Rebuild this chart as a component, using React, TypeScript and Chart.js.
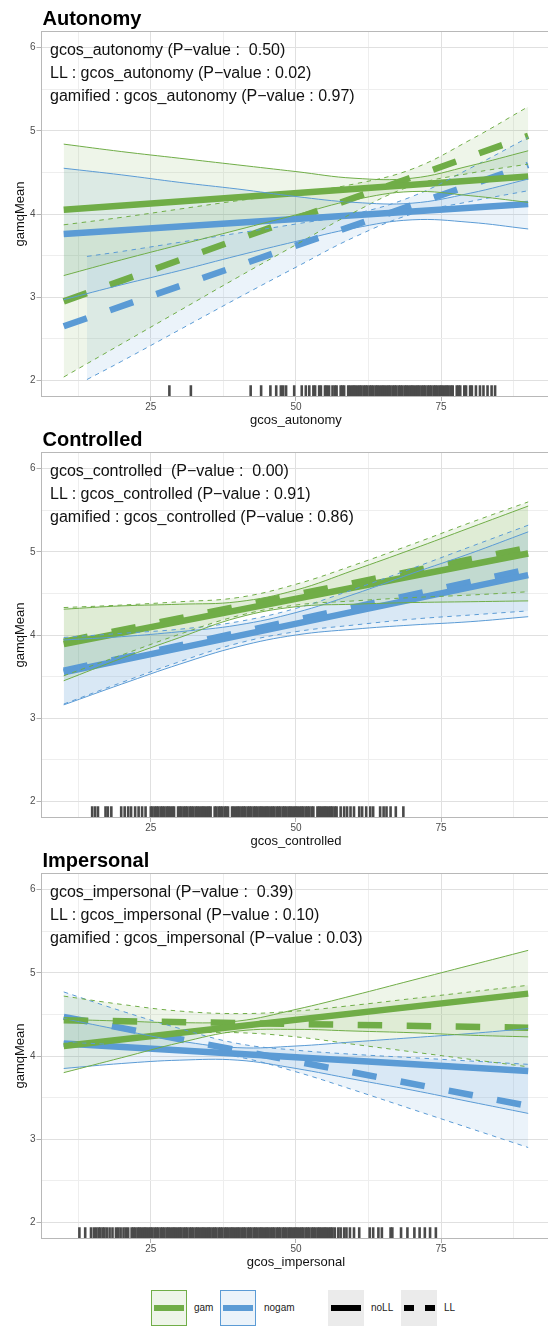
import React, { useEffect, useRef } from "react";
import { Chart, registerables } from "chart.js";

Chart.register(...registerables);

const FONT = "'Liberation Sans', Arial, Helvetica, sans-serif";
Chart.defaults.font.family = FONT;

const GREEN = "#70AD47";
const BLUE = "#5B9BD5";
const GREEN_FILL = "rgba(112,173,71,0.12)";
const BLUE_FILL = "rgba(91,155,213,0.12)";

// axis ticks
const X_MAJOR = [25, 50, 75];
const X_MINOR = [12.5, 37.5, 62.5, 87.5];
const Y_MAJOR = [2, 3, 4, 5, 6];
const Y_MINOR = [2.5, 3.5, 4.5, 5.5];

// x positions of the fitted lines and of the confidence bands
const fitX = [10, 90];
const bandX = [10, 20, 30, 40, 50, 60, 70, 80, 90];

// ---------- Autonomy ----------
const autGamFit = [4.05, 4.45];
const autNogamFit = [3.76, 4.12];
const autGamLLFit = [2.95, 4.94];
const autNogamLLFit = [2.65, 4.59];
const autGamLo = [3.26, 3.45, 3.63, 3.81, 3.99, 4.17, 4.27, 4.22, 4.14];
const autGamHi = [4.84, 4.75, 4.67, 4.59, 4.51, 4.43, 4.43, 4.58, 4.76];
const autNogamLo = [2.97, 3.15, 3.32, 3.5, 3.67, 3.83, 3.93, 3.9, 3.82];
const autNogamHi = [4.55, 4.47, 4.38, 4.3, 4.21, 4.14, 4.13, 4.25, 4.42];
const autGamLLLo = [2.04, 2.44, 2.84, 3.24, 3.63, 4.02, 4.34, 4.49, 4.6];
const autGamLLHi = [3.87, 3.96, 4.06, 4.16, 4.25, 4.36, 4.54, 4.89, 5.29];
const autNogamLLX = [14, 20, 30, 40, 50, 60, 70, 80, 90];
const autNogamLLLo = [2.01, 2.23, 2.61, 2.99, 3.36, 3.72, 4.0, 4.15, 4.28];
const autNogamLLHi = [3.49, 3.55, 3.66, 3.77, 3.88, 4.0, 4.21, 4.55, 4.92];
const autRug = [28.2, 31.9, 42.2, 44.0, 45.6, 46.6, 47.4, 47.8, 48.3, 49.7, 51.0, 51.7, 52.3, 53.0, 53.3, 54.0, 54.3, 55.0, 55.3, 55.7, 56.3, 56.7, 57.0, 57.7, 58.0, 58.3, 59.0, 59.3, 59.7, 60.0, 60.3, 60.7, 61.0, 61.3, 61.7, 62.0, 62.3, 62.7, 63.0, 63.3, 63.7, 64.0, 64.3, 64.7, 65.0, 65.3, 65.7, 66.0, 66.3, 66.7, 67.0, 67.3, 67.7, 68.0, 68.3, 68.7, 69.0, 69.3, 69.7, 70.0, 70.3, 70.7, 71.0, 71.3, 71.7, 72.0, 72.3, 72.7, 73.0, 73.3, 73.7, 74.0, 74.3, 74.7, 75.0, 75.3, 75.7, 76.0, 76.3, 76.7, 77.0, 77.7, 78.0, 78.3, 79.0, 79.3, 80.0, 80.3, 81.0, 81.7, 82.3, 83.0, 83.7, 84.3];

// ---------- Controlled ----------
const conGamFit = [3.89, 4.98];
const conNogamFit = [3.55, 4.72];
const conGamLLFit = [3.92, 5.05];
const conNogamLLFit = [3.57, 4.79];
const conGamLo = [3.45, 3.72, 3.97, 4.21, 4.34, 4.37, 4.39, 4.4, 4.41];
const conGamHi = [4.31, 4.35, 4.37, 4.4, 4.54, 4.78, 5.03, 5.29, 5.55];
const conNogamLo = [3.16, 3.41, 3.65, 3.86, 4.0, 4.07, 4.12, 4.16, 4.22];
const conNogamHi = [3.94, 3.98, 4.04, 4.12, 4.27, 4.49, 4.74, 4.98, 5.24];
const conGamLLLo = [3.51, 3.76, 4.01, 4.23, 4.36, 4.41, 4.45, 4.48, 4.52];
const conGamLLHi = [4.33, 4.36, 4.4, 4.45, 4.61, 4.84, 5.09, 5.35, 5.6];
const conNogamLLLo = [3.17, 3.43, 3.68, 3.9, 4.04, 4.12, 4.19, 4.24, 4.29];
const conNogamLLHi = [3.97, 4.02, 4.07, 4.16, 4.32, 4.55, 4.8, 5.06, 5.32];
const conRug = [14.9, 15.4, 15.9, 17.2, 17.6, 18.2, 19.9, 20.5, 21.1, 21.6, 22.3, 22.9, 23.5, 24.1, 25.0, 25.3, 25.7, 26.0, 26.3, 26.7, 27.0, 27.3, 27.7, 28.0, 28.3, 28.7, 29.0, 29.7, 30.0, 30.3, 30.7, 31.0, 31.3, 31.7, 32.0, 32.3, 32.7, 33.0, 33.3, 33.7, 34.0, 34.3, 34.7, 35.0, 35.3, 36.0, 36.3, 36.7, 37.0, 37.3, 37.7, 38.0, 38.3, 39.0, 39.3, 39.7, 40.0, 40.3, 40.7, 41.0, 41.3, 41.7, 42.0, 42.3, 42.7, 43.0, 43.3, 43.7, 44.0, 44.3, 44.7, 45.0, 45.3, 45.7, 46.0, 46.3, 46.7, 47.0, 47.3, 47.7, 48.0, 48.3, 48.7, 49.0, 49.3, 49.7, 50.0, 50.3, 50.7, 51.0, 51.3, 51.7, 52.0, 52.3, 52.7, 53.0, 53.7, 54.0, 54.3, 54.7, 55.0, 55.3, 55.7, 56.0, 56.3, 56.7, 57.0, 57.7, 58.3, 58.8, 59.4, 60.0, 60.9, 61.4, 62.1, 62.8, 63.3, 64.5, 65.1, 65.6, 66.3, 67.2, 68.5];

// ---------- Impersonal ----------
const impGamFit = [4.12, 4.75];
const impNogamFit = [4.15, 3.82];
const impGamLLFit = [4.43, 4.34];
const impNogamLLFit = [4.47, 3.4];
const impGamLo = [3.8, 3.98, 4.16, 4.3, 4.32, 4.3, 4.28, 4.25, 4.23];
const impGamHi = [4.44, 4.42, 4.4, 4.42, 4.56, 4.73, 4.91, 5.09, 5.27];
const impNogamLo = [3.85, 3.91, 3.95, 3.95, 3.85, 3.72, 3.59, 3.45, 3.31];
const impNogamHi = [4.45, 4.31, 4.18, 4.1, 4.12, 4.17, 4.22, 4.27, 4.33];
const impGamLLLo = [4.14, 4.22, 4.27, 4.28, 4.23, 4.14, 4.05, 3.96, 3.87];
const impGamLLHi = [4.72, 4.62, 4.54, 4.51, 4.54, 4.61, 4.69, 4.77, 4.85];
const impNogamLLLo = [4.17, 4.13, 4.08, 3.99, 3.81, 3.59, 3.36, 3.13, 2.9];
const impNogamLLHi = [4.77, 4.54, 4.33, 4.15, 4.07, 4.02, 3.98, 3.94, 3.9];
const impRug = [12.7, 13.7, 14.7, 15.2, 15.6, 16.0, 16.3, 16.7, 17.0, 17.4, 17.9, 18.4, 19.0, 19.4, 19.8, 20.3, 20.7, 21.1, 21.7, 22.0, 22.3, 22.7, 23.0, 23.3, 23.7, 24.0, 24.3, 24.7, 25.0, 25.3, 25.7, 26.0, 26.3, 26.7, 27.0, 27.3, 27.7, 28.0, 28.3, 28.7, 29.0, 29.3, 29.7, 30.0, 30.3, 30.7, 31.0, 31.3, 31.7, 32.0, 32.3, 32.7, 33.0, 33.3, 33.7, 34.0, 34.3, 34.7, 35.0, 35.3, 35.7, 36.0, 36.3, 36.7, 37.0, 37.3, 37.7, 38.0, 38.3, 38.7, 39.0, 39.3, 39.7, 40.0, 40.3, 40.7, 41.0, 41.3, 41.7, 42.0, 42.3, 42.7, 43.0, 43.3, 43.7, 44.0, 44.3, 44.7, 45.0, 45.3, 45.7, 46.0, 46.3, 46.7, 47.0, 47.3, 47.7, 48.0, 48.3, 48.7, 49.0, 49.3, 49.7, 50.0, 50.3, 50.7, 51.0, 51.3, 51.7, 52.0, 52.3, 52.7, 53.0, 53.3, 53.7, 54.0, 54.3, 54.7, 55.0, 55.3, 55.7, 56.0, 56.3, 56.7, 57.3, 57.7, 58.3, 58.7, 59.3, 60.0, 60.9, 62.7, 63.3, 64.2, 64.8, 66.3, 66.6, 68.1, 69.2, 70.4, 71.3, 72.2, 73.1, 74.1];

type Panel = {
  title: string;
  xTitle: string;
  notes: string[];
  gamFit: number[]; nogamFit: number[]; gamLLFit: number[]; nogamLLFit: number[];
  gamX: number[]; gamLo: number[]; gamHi: number[];
  nogamX: number[]; nogamLo: number[]; nogamHi: number[];
  gamLLX: number[]; gamLLLo: number[]; gamLLHi: number[];
  nogamLLX: number[]; nogamLLLo: number[]; nogamLLHi: number[];
  rug: number[];
};

const panels: Panel[] = [
  {
    title: "Autonomy", xTitle: "gcos_autonomy",
    notes: ["gcos_autonomy (P\u2212value :  0.50)", "LL : gcos_autonomy (P\u2212value : 0.02)", "gamified : gcos_autonomy (P\u2212value : 0.97)"],
    gamFit: autGamFit, nogamFit: autNogamFit, gamLLFit: autGamLLFit, nogamLLFit: autNogamLLFit,
    gamX: bandX, gamLo: autGamLo, gamHi: autGamHi,
    nogamX: bandX, nogamLo: autNogamLo, nogamHi: autNogamHi,
    gamLLX: bandX, gamLLLo: autGamLLLo, gamLLHi: autGamLLHi,
    nogamLLX: autNogamLLX, nogamLLLo: autNogamLLLo, nogamLLHi: autNogamLLHi,
    rug: autRug,
  },
  {
    title: "Controlled", xTitle: "gcos_controlled",
    notes: ["gcos_controlled  (P\u2212value :  0.00)", "LL : gcos_controlled (P\u2212value : 0.91)", "gamified : gcos_controlled (P\u2212value : 0.86)"],
    gamFit: conGamFit, nogamFit: conNogamFit, gamLLFit: conGamLLFit, nogamLLFit: conNogamLLFit,
    gamX: bandX, gamLo: conGamLo, gamHi: conGamHi,
    nogamX: bandX, nogamLo: conNogamLo, nogamHi: conNogamHi,
    gamLLX: bandX, gamLLLo: conGamLLLo, gamLLHi: conGamLLHi,
    nogamLLX: bandX, nogamLLLo: conNogamLLLo, nogamLLHi: conNogamLLHi,
    rug: conRug,
  },
  {
    title: "Impersonal", xTitle: "gcos_impersonal",
    notes: ["gcos_impersonal (P\u2212value :  0.39)", "LL : gcos_impersonal (P\u2212value : 0.10)", "gamified : gcos_impersonal (P\u2212value : 0.03)"],
    gamFit: impGamFit, nogamFit: impNogamFit, gamLLFit: impGamLLFit, nogamLLFit: impNogamLLFit,
    gamX: bandX, gamLo: impGamLo, gamHi: impGamHi,
    nogamX: bandX, nogamLo: impNogamLo, nogamHi: impNogamHi,
    gamLLX: bandX, gamLLLo: impGamLLLo, gamLLHi: impGamLLHi,
    nogamLLX: bandX, nogamLLLo: impNogamLLLo, nogamLLHi: impNogamLLHi,
    rug: impRug,
  },
];

// layout constants (not data)
const X_MIN = 6, X_MAX = 94, Y_MIN = 1.8, Y_MAX = 6.2;
const RUG_Y = 1.869;
const CANVAS_W = 560, CANVAS_H = 432, PANEL_STEP = 421;

const pts = (xs: number[], ys: number[]) => xs.map((x, i) => ({ x, y: ys[i] }));

function bandSets(xs: number[], lo: number[], hi: number[], color: string, fillColor: string, dashed: boolean) {
  const base = {
    borderColor: color, borderWidth: 1, borderDash: dashed ? [4.5, 4.5] : [],
    pointRadius: 0, tension: 0.4, order: 1,
  };
  return [
    { ...base, data: pts(xs, lo), fill: false },
    { ...base, data: pts(xs, hi), fill: "-1", backgroundColor: fillColor },
  ];
}

function fitSet(ys: number[], color: string, dashed: boolean) {
  return {
    data: pts(fitX, ys), borderColor: color, borderWidth: 6.5,
    borderDash: dashed ? [24.5, 24.5] : [], borderCapStyle: "butt",
    pointRadius: 0, fill: false, order: 2,
  };
}

const framePlugin = {
  id: "frame",
  afterDatasetsDraw(chart: any) {
    const { ctx, chartArea: a } = chart;
    ctx.save();
    ctx.strokeStyle = "#b8b8b8";
    ctx.lineWidth = 1;
    ctx.strokeRect(Math.round(a.left) + 0.5, Math.round(a.top) + 0.5, Math.round(a.right - a.left), Math.round(a.bottom - a.top) - 1);
    ctx.restore();
  },
};

function buildConfig(p: Panel): any {
  const datasets: any[] = [
    ...bandSets(p.gamX, p.gamLo, p.gamHi, GREEN, GREEN_FILL, false),
    ...bandSets(p.nogamX, p.nogamLo, p.nogamHi, BLUE, BLUE_FILL, false),
    ...bandSets(p.gamLLX, p.gamLLLo, p.gamLLHi, GREEN, GREEN_FILL, true),
    ...bandSets(p.nogamLLX, p.nogamLLLo, p.nogamLLHi, BLUE, BLUE_FILL, true),
    fitSet(p.gamFit, GREEN, false),
    fitSet(p.nogamFit, BLUE, false),
    fitSet(p.gamLLFit, GREEN, true),
    fitSet(p.nogamLLFit, BLUE, true),
    {
      data: p.rug.map((x) => ({ x, y: RUG_Y })), showLine: false,
      pointStyle: "line", pointRotation: 90, pointRadius: 6,
      pointBorderWidth: 2.6, pointBorderColor: "#4a4a4a", pointBackgroundColor: "#4a4a4a",
      borderColor: "#4a4a4a", order: 3,
    },
  ];
  const isMajorX = (v: number) => X_MAJOR.includes(v);
  const isMajorY = (v: number) => Y_MAJOR.includes(v);
  return {
    type: "line",
    data: { datasets },
    plugins: [framePlugin],
    options: {
      responsive: false,
      animation: false,
      devicePixelRatio: 1,
      events: [],
      layout: { padding: { top: 31, right: 2, bottom: 0, left: 0 } },
      plugins: {
        legend: { display: false },
        tooltip: { enabled: false },
        filler: { propagate: false, drawTime: "beforeDatasetsDraw" },
      },
      scales: {
        x: {
          type: "linear", min: X_MIN, max: X_MAX,
          afterBuildTicks: (s: any) => {
            s.ticks = [...X_MINOR, ...X_MAJOR].sort((a, b) => a - b).map((v) => ({ value: v }));
          },
          afterFit: (s: any) => { s.height = 35; },
          border: { display: false },
          grid: {
            color: (c: any) => (c.tick && isMajorX(c.tick.value) ? "#e0e0e0" : "#eeeeee"),
            lineWidth: 1, drawTicks: true, tickLength: 4,
            tickColor: (c: any) => (c.tick && isMajorX(c.tick.value) ? "#b3b3b3" : "rgba(0,0,0,0)"),
          },
          ticks: {
            callback: (v: number) => (isMajorX(v) ? String(v) : ""),
            color: "#4d4d4d", font: { size: 10, family: FONT }, padding: 0,
            autoSkip: false, maxRotation: 0,
          },
          title: {
            display: true, text: p.xTitle, color: "#111",
            font: { size: 13, family: FONT }, padding: { top: 0, bottom: 3.5 },
          },
        },
        y: {
          type: "linear", min: Y_MIN, max: Y_MAX,
          afterBuildTicks: (s: any) => {
            s.ticks = [...Y_MINOR, ...Y_MAJOR].sort((a, b) => a - b).map((v) => ({ value: v }));
          },
          afterFit: (s: any) => { s.width = 40.5; },
          border: { display: false },
          grid: {
            color: (c: any) => (c.tick && isMajorY(c.tick.value) ? "#e0e0e0" : "#eeeeee"),
            lineWidth: 1, drawTicks: true, tickLength: 4,
            tickColor: (c: any) => (c.tick && isMajorY(c.tick.value) ? "#b3b3b3" : "rgba(0,0,0,0)"),
          },
          ticks: {
            callback: (v: number) => (isMajorY(v) ? String(v) : ""),
            color: "#4d4d4d", font: { size: 10, family: FONT }, padding: 1, autoSkip: false,
          },
          title: {
            display: true, text: "gamqMean", color: "#111",
            font: { size: 13, family: FONT }, padding: { top: 12.5, bottom: 0 },
          },
        },
      },
    },
  };
}

function PanelView({ p, top }: { p: Panel; top: number }) {
  const ref = useRef<HTMLCanvasElement>(null);
  useEffect(() => {
    const chart = new Chart(ref.current as HTMLCanvasElement, buildConfig(p));
    return () => chart.destroy();
  }, [p]);
  return (
    <>
      <canvas
        ref={ref}
        width={CANVAS_W}
        height={CANVAS_H}
        style={{ position: "absolute", left: 0, top, width: CANVAS_W, height: CANVAS_H }}
      />
      <div style={{ position: "absolute", left: 42.5, top: top + 6, font: `bold 20px ${FONT}`, lineHeight: "24px", color: "#000", whiteSpace: "pre" }}>
        {p.title}
      </div>
      <div style={{ position: "absolute", left: 50, top: top + 37.5, font: `16px ${FONT}`, lineHeight: "23px", color: "#111", whiteSpace: "pre" }}>
        {p.notes.map((n, i) => (
          <div key={i}>{n}</div>
        ))}
      </div>
    </>
  );
}

const legendGroups = [
  { label: "gam", color: GREEN, fill: GREEN_FILL, left: 151, labelLeft: 194 },
  { label: "nogam", color: BLUE, fill: BLUE_FILL, left: 220, labelLeft: 264 },
];

function Legend() {
  const top = 1290;
  const labelStyle = (left: number): React.CSSProperties => ({
    position: "absolute", left, top: top + 12, font: `10px ${FONT}`, lineHeight: "12px", color: "#222",
  });
  return (
    <>
      {legendGroups.map((g) => (
        <React.Fragment key={g.label}>
          <div style={{ position: "absolute", left: g.left, top, width: 36, height: 36, boxSizing: "border-box", border: `1px solid ${g.color}`, background: g.fill }}>
            <div style={{ position: "absolute", left: 2, top: 13.5, width: 30, height: 6.5, background: g.color }} />
          </div>
          <div style={labelStyle(g.labelLeft)}>{g.label}</div>
        </React.Fragment>
      ))}
      <div style={{ position: "absolute", left: 328, top, width: 36, height: 36, background: "#ebebeb" }}>
        <div style={{ position: "absolute", left: 3, top: 14.5, width: 30, height: 6.5, background: "#000" }} />
      </div>
      <div style={labelStyle(371)}>noLL</div>
      <div style={{ position: "absolute", left: 401, top, width: 36, height: 36, background: "#ebebeb" }}>
        <div style={{ position: "absolute", left: 3, top: 14.5, width: 10, height: 6.5, background: "#000" }} />
        <div style={{ position: "absolute", left: 24, top: 14.5, width: 10, height: 6.5, background: "#000" }} />
      </div>
      <div style={labelStyle(444)}>LL</div>
    </>
  );
}

export default function App() {
  return (
    <div style={{ position: "absolute", left: 0, top: 0, width: 548, height: 1327, overflow: "hidden", background: "#fff" }}>
      {panels.map((p, i) => (
        <PanelView key={p.title} p={p} top={i * PANEL_STEP} />
      ))}
      <Legend />
    </div>
  );
}
